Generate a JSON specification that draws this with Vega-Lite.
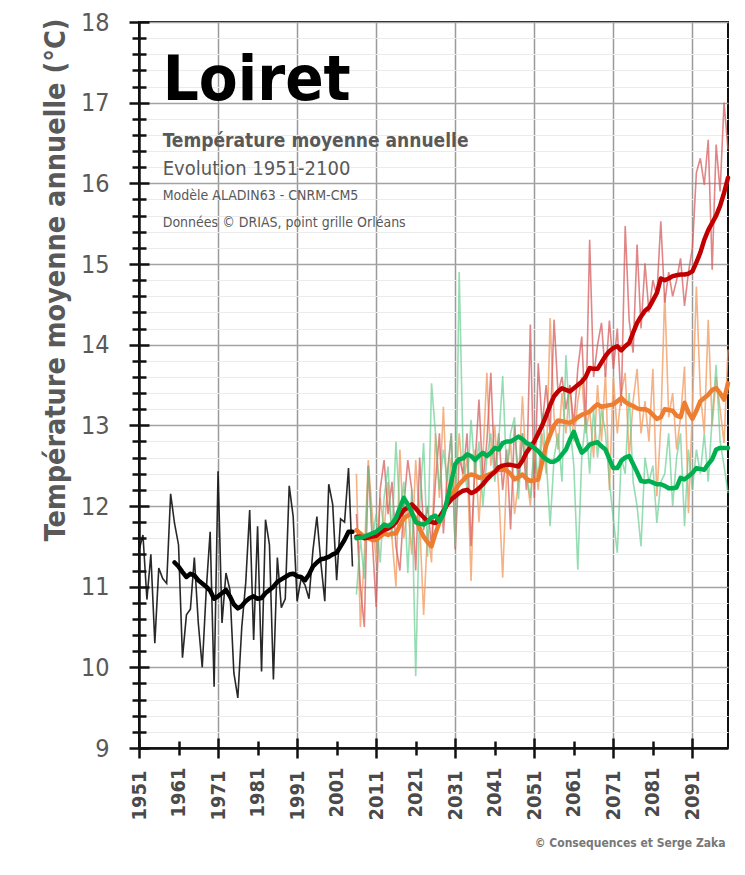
{
 "$schema": "https://vega.github.io/schema/vega-lite/v6.json",
 "width": 589,
 "height": 726,
 "autosize": {"type": "none"},
 "padding": {"left": 139, "top": 22, "right": 17, "bottom": 127},
 "background": "white",
 "config": {"view": {"stroke": "#111111", "strokeWidth": 2}, "font": "DejaVu Sans Condensed, Liberation Sans Narrow, sans-serif"},
 "data": {"values": [
  {"an":1951,"sc":"hist","t":11.45},{"an":1952,"sc":"hist","t":11.64},{"an":1953,"sc":"hist","t":10.84},{"an":1954,"sc":"hist","t":11.40},{"an":1955,"sc":"hist","t":10.30},{"an":1956,"sc":"hist","t":11.23},{"an":1957,"sc":"hist","t":11.10},{"an":1958,"sc":"hist","t":11.04},{"an":1959,"sc":"hist","t":12.15},
  {"an":1960,"sc":"hist","t":11.78,"m":11.30},{"an":1961,"sc":"hist","t":11.52,"m":11.25},{"an":1962,"sc":"hist","t":10.12,"m":11.18},{"an":1963,"sc":"hist","t":10.65,"m":11.12},{"an":1964,"sc":"hist","t":10.72,"m":11.16},{"an":1965,"sc":"hist","t":11.36,"m":11.14},{"an":1966,"sc":"hist","t":10.55,"m":11.08},{"an":1967,"sc":"hist","t":10.00,"m":11.04},{"an":1968,"sc":"hist","t":10.95,"m":11.00},{"an":1969,"sc":"hist","t":11.68,"m":10.95},
  {"an":1970,"sc":"hist","t":9.76,"m":10.85},{"an":1971,"sc":"hist","t":12.43,"m":10.88},{"an":1972,"sc":"hist","t":10.55,"m":10.92},{"an":1973,"sc":"hist","t":11.17,"m":10.96},{"an":1974,"sc":"hist","t":10.96,"m":10.88},{"an":1975,"sc":"hist","t":9.93,"m":10.78},{"an":1976,"sc":"hist","t":9.62,"m":10.73},{"an":1977,"sc":"hist","t":10.50,"m":10.76},{"an":1978,"sc":"hist","t":11.05,"m":10.82},{"an":1979,"sc":"hist","t":11.95,"m":10.86},
  {"an":1980,"sc":"hist","t":10.34,"m":10.88},{"an":1981,"sc":"hist","t":11.75,"m":10.85},{"an":1982,"sc":"hist","t":9.95,"m":10.86},{"an":1983,"sc":"hist","t":11.83,"m":10.92},{"an":1984,"sc":"hist","t":11.52,"m":10.96},{"an":1985,"sc":"hist","t":9.85,"m":11.00},{"an":1986,"sc":"hist","t":11.36,"m":11.06},{"an":1987,"sc":"hist","t":10.74,"m":11.09},{"an":1988,"sc":"hist","t":10.85,"m":11.12},{"an":1989,"sc":"hist","t":12.25,"m":11.15},
  {"an":1990,"sc":"hist","t":11.87,"m":11.16},{"an":1991,"sc":"hist","t":10.82,"m":11.13},{"an":1992,"sc":"hist","t":11.10,"m":11.12},{"an":1993,"sc":"hist","t":11.02,"m":11.08},{"an":1994,"sc":"hist","t":10.85,"m":11.15},{"an":1995,"sc":"hist","t":11.45,"m":11.25},{"an":1996,"sc":"hist","t":11.87,"m":11.30},{"an":1997,"sc":"hist","t":11.30,"m":11.34},{"an":1998,"sc":"hist","t":10.82,"m":11.35},{"an":1999,"sc":"hist","t":12.27,"m":11.37},
  {"an":2000,"sc":"hist","t":12.02,"m":11.40},{"an":2001,"sc":"hist","t":11.08,"m":11.42},{"an":2002,"sc":"hist","t":11.84,"m":11.50},{"an":2003,"sc":"hist","t":11.80,"m":11.58},{"an":2004,"sc":"hist","t":12.47,"m":11.68},{"an":2005,"sc":"hist","t":11.25,"m":11.68},

  {"an":2006,"sc":"rcp45","t":12.4,"m":11.70},{"an":2007,"sc":"rcp45","t":10.5,"m":11.66},{"an":2008,"sc":"rcp45","t":11.4,"m":11.62},{"an":2009,"sc":"rcp45","t":12.57,"m":11.60},{"an":2010,"sc":"rcp45","t":11.9,"m":11.58},{"an":2011,"sc":"rcp45","t":11.3,"m":11.58},{"an":2012,"sc":"rcp45","t":12.1,"m":11.62},{"an":2013,"sc":"rcp45","t":11.7,"m":11.66},{"an":2014,"sc":"rcp45","t":12.3,"m":11.64},{"an":2015,"sc":"rcp45","t":11.6,"m":11.66},
  {"an":2016,"sc":"rcp45","t":11.0,"m":11.66},{"an":2017,"sc":"rcp45","t":12.7,"m":11.76},{"an":2018,"sc":"rcp45","t":11.6,"m":11.85},{"an":2019,"sc":"rcp45","t":12.0,"m":11.88},{"an":2020,"sc":"rcp45","t":11.4,"m":11.91},{"an":2021,"sc":"rcp45","t":12.57,"m":11.84},{"an":2022,"sc":"rcp45","t":11.8,"m":11.72},{"an":2023,"sc":"rcp45","t":10.65,"m":11.62},{"an":2024,"sc":"rcp45","t":11.7,"m":11.55},{"an":2025,"sc":"rcp45","t":11.3,"m":11.50},
  {"an":2026,"sc":"rcp45","t":12.9,"m":11.66},{"an":2027,"sc":"rcp45","t":12.1,"m":11.80},{"an":2028,"sc":"rcp45","t":13.23,"m":11.92},{"an":2029,"sc":"rcp45","t":12.0,"m":12.03},{"an":2030,"sc":"rcp45","t":12.6,"m":12.13},{"an":2031,"sc":"rcp45","t":12.2,"m":12.20},{"an":2032,"sc":"rcp45","t":12.9,"m":12.27},{"an":2033,"sc":"rcp45","t":12.3,"m":12.32},{"an":2034,"sc":"rcp45","t":12.6,"m":12.37},{"an":2035,"sc":"rcp45","t":11.07,"m":12.39},
  {"an":2036,"sc":"rcp45","t":12.7,"m":12.38},{"an":2037,"sc":"rcp45","t":11.8,"m":12.35},{"an":2038,"sc":"rcp45","t":12.6,"m":12.36},{"an":2039,"sc":"rcp45","t":13.65,"m":12.38},{"an":2040,"sc":"rcp45","t":12.5,"m":12.40},{"an":2041,"sc":"rcp45","t":13.0,"m":12.43},{"an":2042,"sc":"rcp45","t":12.2,"m":12.45},{"an":2043,"sc":"rcp45","t":11.11,"m":12.45},{"an":2044,"sc":"rcp45","t":12.4,"m":12.44},{"an":2045,"sc":"rcp45","t":12.8,"m":12.40},
  {"an":2046,"sc":"rcp45","t":11.9,"m":12.33},{"an":2047,"sc":"rcp45","t":12.3,"m":12.36},{"an":2048,"sc":"rcp45","t":13.36,"m":12.39},{"an":2049,"sc":"rcp45","t":12.4,"m":12.34},{"an":2050,"sc":"rcp45","t":12.0,"m":12.31},{"an":2051,"sc":"rcp45","t":12.7,"m":12.32},{"an":2052,"sc":"rcp45","t":12.2,"m":12.33},{"an":2053,"sc":"rcp45","t":12.9,"m":12.55},{"an":2054,"sc":"rcp45","t":12.4,"m":12.75},{"an":2055,"sc":"rcp45","t":14.33,"m":12.88},
  {"an":2056,"sc":"rcp45","t":13.1,"m":13.00},{"an":2057,"sc":"rcp45","t":12.7,"m":13.06},{"an":2058,"sc":"rcp45","t":13.4,"m":13.05},{"an":2059,"sc":"rcp45","t":12.9,"m":13.04},{"an":2060,"sc":"rcp45","t":13.5,"m":13.03},{"an":2061,"sc":"rcp45","t":12.8,"m":13.06},{"an":2062,"sc":"rcp45","t":13.3,"m":13.10},{"an":2063,"sc":"rcp45","t":13.6,"m":13.13},{"an":2064,"sc":"rcp45","t":12.9,"m":13.15},{"an":2065,"sc":"rcp45","t":13.2,"m":13.17},
  {"an":2066,"sc":"rcp45","t":12.6,"m":13.22},{"an":2067,"sc":"rcp45","t":13.5,"m":13.26},{"an":2068,"sc":"rcp45","t":12.8,"m":13.23},{"an":2069,"sc":"rcp45","t":13.65,"m":13.24},{"an":2070,"sc":"rcp45","t":12.2,"m":13.25},{"an":2071,"sc":"rcp45","t":13.6,"m":13.26},{"an":2072,"sc":"rcp45","t":12.9,"m":13.30},{"an":2073,"sc":"rcp45","t":13.4,"m":13.34},{"an":2074,"sc":"rcp45","t":13.65,"m":13.29},{"an":2075,"sc":"rcp45","t":12.6,"m":13.26},
  {"an":2076,"sc":"rcp45","t":13.3,"m":13.24},{"an":2077,"sc":"rcp45","t":13.7,"m":13.21},{"an":2078,"sc":"rcp45","t":12.9,"m":13.20},{"an":2079,"sc":"rcp45","t":13.3,"m":13.20},{"an":2080,"sc":"rcp45","t":12.8,"m":13.18},{"an":2081,"sc":"rcp45","t":13.7,"m":13.13},{"an":2082,"sc":"rcp45","t":12.12,"m":13.08},{"an":2083,"sc":"rcp45","t":13.0,"m":13.10},{"an":2084,"sc":"rcp45","t":14.64,"m":13.20},{"an":2085,"sc":"rcp45","t":13.1,"m":13.19},
  {"an":2086,"sc":"rcp45","t":13.4,"m":13.18},{"an":2087,"sc":"rcp45","t":12.7,"m":13.12},{"an":2088,"sc":"rcp45","t":13.1,"m":13.10},{"an":2089,"sc":"rcp45","t":13.73,"m":13.28},{"an":2090,"sc":"rcp45","t":11.91,"m":13.16},{"an":2091,"sc":"rcp45","t":13.2,"m":13.08},{"an":2092,"sc":"rcp45","t":14.72,"m":13.18},{"an":2093,"sc":"rcp45","t":13.4,"m":13.30},{"an":2094,"sc":"rcp45","t":12.9,"m":13.34},{"an":2095,"sc":"rcp45","t":14.31,"m":13.38},
  {"an":2096,"sc":"rcp45","t":13.0,"m":13.44},{"an":2097,"sc":"rcp45","t":13.6,"m":13.46},{"an":2098,"sc":"rcp45","t":13.2,"m":13.40},{"an":2099,"sc":"rcp45","t":12.78,"m":13.32},{"an":2100,"sc":"rcp45","t":13.94,"m":13.52},

  {"an":2006,"sc":"rcp85","t":11.9,"m":11.62},{"an":2007,"sc":"rcp85","t":11.0,"m":11.62},{"an":2008,"sc":"rcp85","t":10.5,"m":11.60},{"an":2009,"sc":"rcp85","t":12.5,"m":11.61},{"an":2010,"sc":"rcp85","t":11.6,"m":11.62},{"an":2011,"sc":"rcp85","t":10.75,"m":11.63},{"an":2012,"sc":"rcp85","t":12.2,"m":11.67},{"an":2013,"sc":"rcp85","t":12.57,"m":11.70},{"an":2014,"sc":"rcp85","t":11.9,"m":11.72},{"an":2015,"sc":"rcp85","t":12.3,"m":11.75},
  {"an":2016,"sc":"rcp85","t":11.5,"m":11.80},{"an":2017,"sc":"rcp85","t":11.2,"m":11.88},{"an":2018,"sc":"rcp85","t":12.0,"m":11.95},{"an":2019,"sc":"rcp85","t":12.57,"m":11.98},{"an":2020,"sc":"rcp85","t":12.2,"m":12.02},{"an":2021,"sc":"rcp85","t":11.2,"m":11.97},{"an":2022,"sc":"rcp85","t":12.6,"m":11.91},{"an":2023,"sc":"rcp85","t":11.7,"m":11.86},{"an":2024,"sc":"rcp85","t":12.0,"m":11.81},{"an":2025,"sc":"rcp85","t":11.5,"m":11.80},
  {"an":2026,"sc":"rcp85","t":12.3,"m":11.79},{"an":2027,"sc":"rcp85","t":12.9,"m":11.86},{"an":2028,"sc":"rcp85","t":11.66,"m":11.94},{"an":2029,"sc":"rcp85","t":12.4,"m":12.02},{"an":2030,"sc":"rcp85","t":12.9,"m":12.08},{"an":2031,"sc":"rcp85","t":11.46,"m":12.12},{"an":2032,"sc":"rcp85","t":12.6,"m":12.16},{"an":2033,"sc":"rcp85","t":12.4,"m":12.19},{"an":2034,"sc":"rcp85","t":12.9,"m":12.20},{"an":2035,"sc":"rcp85","t":11.5,"m":12.16},
  {"an":2036,"sc":"rcp85","t":12.5,"m":12.18},{"an":2037,"sc":"rcp85","t":13.32,"m":12.22},{"an":2038,"sc":"rcp85","t":12.3,"m":12.27},{"an":2039,"sc":"rcp85","t":12.8,"m":12.33},{"an":2040,"sc":"rcp85","t":13.65,"m":12.38},{"an":2041,"sc":"rcp85","t":12.4,"m":12.42},{"an":2042,"sc":"rcp85","t":12.9,"m":12.48},{"an":2043,"sc":"rcp85","t":12.2,"m":12.50},{"an":2044,"sc":"rcp85","t":12.7,"m":12.51},{"an":2045,"sc":"rcp85","t":11.71,"m":12.51},
  {"an":2046,"sc":"rcp85","t":13.0,"m":12.50},{"an":2047,"sc":"rcp85","t":12.3,"m":12.49},{"an":2048,"sc":"rcp85","t":12.9,"m":12.56},{"an":2049,"sc":"rcp85","t":12.2,"m":12.66},{"an":2050,"sc":"rcp85","t":14.25,"m":12.73},{"an":2051,"sc":"rcp85","t":12.1,"m":12.80},{"an":2052,"sc":"rcp85","t":13.77,"m":12.90},{"an":2053,"sc":"rcp85","t":13.0,"m":13.00},{"an":2054,"sc":"rcp85","t":13.5,"m":13.12},{"an":2055,"sc":"rcp85","t":12.9,"m":13.25},
  {"an":2056,"sc":"rcp85","t":14.31,"m":13.36},{"an":2057,"sc":"rcp85","t":13.4,"m":13.42},{"an":2058,"sc":"rcp85","t":13.6,"m":13.46},{"an":2059,"sc":"rcp85","t":13.2,"m":13.44},{"an":2060,"sc":"rcp85","t":13.5,"m":13.42},{"an":2061,"sc":"rcp85","t":13.0,"m":13.46},{"an":2062,"sc":"rcp85","t":13.7,"m":13.50},{"an":2063,"sc":"rcp85","t":14.1,"m":13.54},{"an":2064,"sc":"rcp85","t":13.0,"m":13.60},{"an":2065,"sc":"rcp85","t":15.3,"m":13.71},
  {"an":2066,"sc":"rcp85","t":13.6,"m":13.70},{"an":2067,"sc":"rcp85","t":14.0,"m":13.70},{"an":2068,"sc":"rcp85","t":14.27,"m":13.78},{"an":2069,"sc":"rcp85","t":13.6,"m":13.86},{"an":2070,"sc":"rcp85","t":14.3,"m":13.92},{"an":2071,"sc":"rcp85","t":13.7,"m":13.96},{"an":2072,"sc":"rcp85","t":14.2,"m":13.98},{"an":2073,"sc":"rcp85","t":13.24,"m":13.93},{"an":2074,"sc":"rcp85","t":15.47,"m":13.98},{"an":2075,"sc":"rcp85","t":14.3,"m":14.02},
  {"an":2076,"sc":"rcp85","t":13.9,"m":14.15},{"an":2077,"sc":"rcp85","t":15.24,"m":14.27},{"an":2078,"sc":"rcp85","t":14.2,"m":14.35},{"an":2079,"sc":"rcp85","t":15.01,"m":14.42},{"an":2080,"sc":"rcp85","t":14.4,"m":14.46},{"an":2081,"sc":"rcp85","t":14.8,"m":14.55},{"an":2082,"sc":"rcp85","t":14.6,"m":14.64},{"an":2083,"sc":"rcp85","t":15.53,"m":14.82},{"an":2084,"sc":"rcp85","t":14.52,"m":14.80},{"an":2085,"sc":"rcp85","t":14.9,"m":14.82},
  {"an":2086,"sc":"rcp85","t":14.6,"m":14.85},{"an":2087,"sc":"rcp85","t":14.8,"m":14.86},{"an":2088,"sc":"rcp85","t":15.07,"m":14.87},{"an":2089,"sc":"rcp85","t":14.48,"m":14.87},{"an":2090,"sc":"rcp85","t":14.9,"m":14.88},{"an":2091,"sc":"rcp85","t":15.2,"m":14.91},{"an":2092,"sc":"rcp85","t":16.13,"m":15.02},{"an":2093,"sc":"rcp85","t":16.31,"m":15.14},{"an":2094,"sc":"rcp85","t":15.98,"m":15.30},{"an":2095,"sc":"rcp85","t":16.54,"m":15.42},
  {"an":2096,"sc":"rcp85","t":14.93,"m":15.51},{"an":2097,"sc":"rcp85","t":16.48,"m":15.60},{"an":2098,"sc":"rcp85","t":15.9,"m":15.72},{"an":2099,"sc":"rcp85","t":17.0,"m":15.88},{"an":2100,"sc":"rcp85","t":16.42,"m":16.07},

  {"an":2006,"sc":"rcp26","t":10.9,"m":11.60},{"an":2007,"sc":"rcp26","t":11.6,"m":11.61},{"an":2008,"sc":"rcp26","t":11.1,"m":11.62},{"an":2009,"sc":"rcp26","t":12.49,"m":11.64},{"an":2010,"sc":"rcp26","t":11.6,"m":11.66},{"an":2011,"sc":"rcp26","t":11.9,"m":11.68},{"an":2012,"sc":"rcp26","t":11.3,"m":11.72},{"an":2013,"sc":"rcp26","t":12.1,"m":11.77},{"an":2014,"sc":"rcp26","t":12.49,"m":11.75},{"an":2015,"sc":"rcp26","t":11.6,"m":11.78},
  {"an":2016,"sc":"rcp26","t":12.8,"m":11.85},{"an":2017,"sc":"rcp26","t":11.9,"m":11.98},{"an":2018,"sc":"rcp26","t":12.3,"m":12.10},{"an":2019,"sc":"rcp26","t":11.17,"m":12.02},{"an":2020,"sc":"rcp26","t":12.2,"m":11.92},{"an":2021,"sc":"rcp26","t":9.89,"m":11.80},{"an":2022,"sc":"rcp26","t":12.0,"m":11.78},{"an":2023,"sc":"rcp26","t":12.78,"m":11.77},{"an":2024,"sc":"rcp26","t":11.37,"m":11.80},{"an":2025,"sc":"rcp26","t":13.52,"m":11.86},
  {"an":2026,"sc":"rcp26","t":12.9,"m":11.88},{"an":2027,"sc":"rcp26","t":12.2,"m":11.81},{"an":2028,"sc":"rcp26","t":12.7,"m":11.90},{"an":2029,"sc":"rcp26","t":12.3,"m":12.08},{"an":2030,"sc":"rcp26","t":12.9,"m":12.30},{"an":2031,"sc":"rcp26","t":11.5,"m":12.52},{"an":2032,"sc":"rcp26","t":14.9,"m":12.58},{"an":2033,"sc":"rcp26","t":12.6,"m":12.59},{"an":2034,"sc":"rcp26","t":12.2,"m":12.64},{"an":2035,"sc":"rcp26","t":13.07,"m":12.62},
  {"an":2036,"sc":"rcp26","t":12.4,"m":12.57},{"an":2037,"sc":"rcp26","t":12.8,"m":12.62},{"an":2038,"sc":"rcp26","t":12.0,"m":12.66},{"an":2039,"sc":"rcp26","t":12.6,"m":12.62},{"an":2040,"sc":"rcp26","t":12.9,"m":12.66},{"an":2041,"sc":"rcp26","t":12.3,"m":12.72},{"an":2042,"sc":"rcp26","t":12.8,"m":12.70},{"an":2043,"sc":"rcp26","t":13.61,"m":12.78},{"an":2044,"sc":"rcp26","t":12.4,"m":12.80},{"an":2045,"sc":"rcp26","t":12.9,"m":12.80},
  {"an":2046,"sc":"rcp26","t":13.1,"m":12.83},{"an":2047,"sc":"rcp26","t":12.08,"m":12.86},{"an":2048,"sc":"rcp26","t":12.9,"m":12.83},{"an":2049,"sc":"rcp26","t":12.4,"m":12.78},{"an":2050,"sc":"rcp26","t":12.1,"m":12.76},{"an":2051,"sc":"rcp26","t":12.8,"m":12.72},{"an":2052,"sc":"rcp26","t":12.3,"m":12.68},{"an":2053,"sc":"rcp26","t":13.15,"m":12.62},{"an":2054,"sc":"rcp26","t":12.6,"m":12.58},{"an":2055,"sc":"rcp26","t":11.75,"m":12.55},
  {"an":2056,"sc":"rcp26","t":12.6,"m":12.55},{"an":2057,"sc":"rcp26","t":12.9,"m":12.58},{"an":2058,"sc":"rcp26","t":12.3,"m":12.64},{"an":2059,"sc":"rcp26","t":13.87,"m":12.70},{"an":2060,"sc":"rcp26","t":13.0,"m":12.82},{"an":2061,"sc":"rcp26","t":12.5,"m":12.92},{"an":2062,"sc":"rcp26","t":11.21,"m":12.78},{"an":2063,"sc":"rcp26","t":12.6,"m":12.66},{"an":2064,"sc":"rcp26","t":13.1,"m":12.70},{"an":2065,"sc":"rcp26","t":12.4,"m":12.76},
  {"an":2066,"sc":"rcp26","t":13.2,"m":12.78},{"an":2067,"sc":"rcp26","t":12.6,"m":12.79},{"an":2068,"sc":"rcp26","t":13.2,"m":12.74},{"an":2069,"sc":"rcp26","t":12.9,"m":12.70},{"an":2070,"sc":"rcp26","t":12.3,"m":12.58},{"an":2071,"sc":"rcp26","t":11.83,"m":12.47},{"an":2072,"sc":"rcp26","t":11.42,"m":12.47},{"an":2073,"sc":"rcp26","t":12.6,"m":12.56},{"an":2074,"sc":"rcp26","t":12.4,"m":12.60},{"an":2075,"sc":"rcp26","t":13.4,"m":12.62},
  {"an":2076,"sc":"rcp26","t":12.3,"m":12.52},{"an":2077,"sc":"rcp26","t":12.0,"m":12.42},{"an":2078,"sc":"rcp26","t":11.5,"m":12.31},{"an":2079,"sc":"rcp26","t":12.6,"m":12.30},{"an":2080,"sc":"rcp26","t":12.3,"m":12.31},{"an":2081,"sc":"rcp26","t":12.5,"m":12.29},{"an":2082,"sc":"rcp26","t":11.79,"m":12.27},{"an":2083,"sc":"rcp26","t":12.3,"m":12.27},{"an":2084,"sc":"rcp26","t":12.4,"m":12.25},{"an":2085,"sc":"rcp26","t":12.9,"m":12.22},
  {"an":2086,"sc":"rcp26","t":12.0,"m":12.22},{"an":2087,"sc":"rcp26","t":12.6,"m":12.23},{"an":2088,"sc":"rcp26","t":12.9,"m":12.35},{"an":2089,"sc":"rcp26","t":11.75,"m":12.33},{"an":2090,"sc":"rcp26","t":12.7,"m":12.37},{"an":2091,"sc":"rcp26","t":12.2,"m":12.41},{"an":2092,"sc":"rcp26","t":12.7,"m":12.47},{"an":2093,"sc":"rcp26","t":12.4,"m":12.46},{"an":2094,"sc":"rcp26","t":12.9,"m":12.45},{"an":2095,"sc":"rcp26","t":12.3,"m":12.52},
  {"an":2096,"sc":"rcp26","t":13.1,"m":12.58},{"an":2097,"sc":"rcp26","t":13.75,"m":12.70},{"an":2098,"sc":"rcp26","t":12.8,"m":12.72},{"an":2099,"sc":"rcp26","t":12.5,"m":12.72},{"an":2100,"sc":"rcp26","t":12.16,"m":12.72}
 ]},
 "layer": [
  {
   "mark": {"type": "line", "strokeWidth": 1.6},
   "encoding": {
    "x": {"field": "an", "type": "quantitative", "scale": {"domain": [1951, 2100], "nice": false, "zero": false},
     "axis": {"orient": "bottom", "values": [1951,1961,1971,1981,1991,2001,2011,2021,2031,2041,2051,2061,2071,2081,2091],
      "labels": false, "domain": false, "title": null, "grid": true, "gridColor": "#9a9a9a", "gridWidth": 1.5,
      "gridOpacity": {"condition": {"test": "(datum.value - 1951) % 20 === 0 && datum.value > 1951", "value": 1}, "value": 0},
      "tickSize": {"condition": {"test": "(datum.value - 1951) % 20 === 0", "value": -10}, "value": -7},
      "tickColor": "#111111", "tickWidth": 2.5}},
    "y": {"field": "t", "type": "quantitative", "scale": {"domain": [9, 18], "nice": false, "zero": false},
     "axis": {"orient": "left", "values": [9,9.2,9.4,9.6,9.8,10,10.2,10.4,10.6,10.8,11,11.2,11.4,11.6,11.8,12,12.2,12.4,12.6,12.8,13,13.2,13.4,13.6,13.8,14,14.2,14.4,14.6,14.8,15,15.2,15.4,15.6,15.8,16,16.2,16.4,16.6,16.8,17,17.2,17.4,17.6,17.8,18],
      "labels": false, "domain": false, "title": null, "grid": true,
      "gridColor": {"condition": {"test": "datum.value % 1 === 0", "value": "#a3a3a3"}, "value": "#ebebeb"},
      "gridWidth": {"condition": {"test": "datum.value % 1 === 0", "value": 1.6}, "value": 1.2},
      "tickSize": {"condition": {"test": "datum.value % 1 === 0", "value": -10}, "value": -7},
      "tickColor": "#111111", "tickWidth": 2.5}},
    "color": {"field": "sc", "type": "nominal", "legend": null,
     "scale": {"domain": ["hist", "rcp45", "rcp85", "rcp26"], "range": ["#111111", "#F3A06A", "#D65A5C", "#5FCB8C"]}},
    "strokeOpacity": {"field": "sc", "type": "nominal", "legend": null,
     "scale": {"domain": ["hist", "rcp45", "rcp85", "rcp26"], "range": [0.9, 0.65, 0.6, 0.65]}}
   }
  },
  {
   "mark": {"type": "line", "strokeWidth": 4.5, "strokeJoin": "round", "strokeCap": "round"},
   "encoding": {
    "x": {"field": "an", "type": "quantitative", "scale": {"domain": [1951, 2100], "nice": false, "zero": false},
     "axis": {"orient": "bottom", "values": [1951,1961,1971,1981,1991,2001,2011,2021,2031,2041,2051,2061,2071,2081,2091],
      "format": "d", "labelAngle": -90, "labelAlign": "right", "labelBaseline": "middle", "labelOverlap": false, "labelFlush": false,
      "labelFontSize": 20, "labelFontWeight": "bold", "labelColor": "#4a4a4a", "labelPadding": 12,
      "tickSize": {"condition": {"test": "(datum.value - 1951) % 20 === 0", "value": 10}, "value": 7},
      "tickColor": "#111111", "tickWidth": 2.5, "domainColor": "#111111", "domainWidth": 2.5, "grid": false,
      "title": "© Consequences et Serge Zaka", "titleX": 586, "titleY": 94, "titleAlign": "right", "titleBaseline": "middle",
      "titleFontSize": 12, "titleFontWeight": "bold", "titleColor": "#777777"}},
    "y": {"field": "m", "type": "quantitative", "scale": {"domain": [9, 18], "nice": false, "zero": false},
     "axis": {"orient": "left", "values": [9,9.2,9.4,9.6,9.8,10,10.2,10.4,10.6,10.8,11,11.2,11.4,11.6,11.8,12,12.2,12.4,12.6,12.8,13,13.2,13.4,13.6,13.8,14,14.2,14.4,14.6,14.8,15,15.2,15.4,15.6,15.8,16,16.2,16.4,16.6,16.8,17,17.2,17.4,17.6,17.8,18],
      "labelExpr": "datum.value % 1 === 0 ? format(datum.value, 'd') : ''", "labelOverlap": false, "labelFlush": false,
      "labelFontSize": 25, "labelColor": "#595959", "labelPadding": 20,
      "tickSize": {"condition": {"test": "datum.value % 1 === 0", "value": 10}, "value": 7},
      "tickColor": "#111111", "tickWidth": 2.5, "domainColor": "#111111", "domainWidth": 2.5, "grid": false,
      "title": "Température moyenne annuelle (°C)", "titleFontSize": 28.5, "titleFontWeight": "bold", "titleColor": "#595959",
      "titleAngle": -90, "titleX": -84, "titleY": -4, "titleAlign": "right", "titleBaseline": "middle"}},
    "color": {"field": "sc", "type": "nominal", "legend": null,
     "scale": {"domain": ["hist", "rcp45", "rcp85", "rcp26"], "range": ["#000000", "#ED7D31", "#C00000", "#00B050"]}}
   }
  },
  {
   "data": {"values": [{}]},
   "mark": {"type": "text", "text": "Loiret", "fontSize": 63, "fontWeight": "bold", "color": "#000000", "align": "left", "baseline": "alphabetic"},
   "encoding": {
    "x": {"datum": 1957, "type": "quantitative", "scale": {"domain": [1951, 2100], "nice": false, "zero": false}, "axis": null},
    "y": {"datum": 17.03, "type": "quantitative", "scale": {"domain": [9, 18], "nice": false, "zero": false}, "axis": null}
   }
  },
  {
   "data": {"values": [{}]},
   "mark": {"type": "text", "text": "Température moyenne annuelle", "fontSize": 19, "fontWeight": "bold", "color": "#595959", "align": "left", "baseline": "alphabetic"},
   "encoding": {
    "x": {"datum": 1957, "type": "quantitative", "scale": {"domain": [1951, 2100], "nice": false, "zero": false}, "axis": null},
    "y": {"datum": 16.45, "type": "quantitative", "scale": {"domain": [9, 18], "nice": false, "zero": false}, "axis": null}
   }
  },
  {
   "data": {"values": [{}]},
   "mark": {"type": "text", "text": "Evolution 1951-2100", "fontSize": 20, "color": "#595959", "align": "left", "baseline": "alphabetic"},
   "encoding": {
    "x": {"datum": 1957, "type": "quantitative", "scale": {"domain": [1951, 2100], "nice": false, "zero": false}, "axis": null},
    "y": {"datum": 16.1, "type": "quantitative", "scale": {"domain": [9, 18], "nice": false, "zero": false}, "axis": null}
   }
  },
  {
   "data": {"values": [{}]},
   "mark": {"type": "text", "text": "Modèle ALADIN63 - CNRM-CM5", "fontSize": 14, "color": "#595959", "align": "left", "baseline": "alphabetic"},
   "encoding": {
    "x": {"datum": 1957, "type": "quantitative", "scale": {"domain": [1951, 2100], "nice": false, "zero": false}, "axis": null},
    "y": {"datum": 15.79, "type": "quantitative", "scale": {"domain": [9, 18], "nice": false, "zero": false}, "axis": null}
   }
  },
  {
   "data": {"values": [{}]},
   "mark": {"type": "text", "text": "Données © DRIAS, point grille Orléans", "fontSize": 14, "color": "#595959", "align": "left", "baseline": "alphabetic"},
   "encoding": {
    "x": {"datum": 1957, "type": "quantitative", "scale": {"domain": [1951, 2100], "nice": false, "zero": false}, "axis": null},
    "y": {"datum": 15.46, "type": "quantitative", "scale": {"domain": [9, 18], "nice": false, "zero": false}, "axis": null}
   }
  }
 ],
 "resolve": {"axis": {"x": "independent", "y": "independent"}, "scale": {"color": "independent", "strokeOpacity": "independent"}}
}
